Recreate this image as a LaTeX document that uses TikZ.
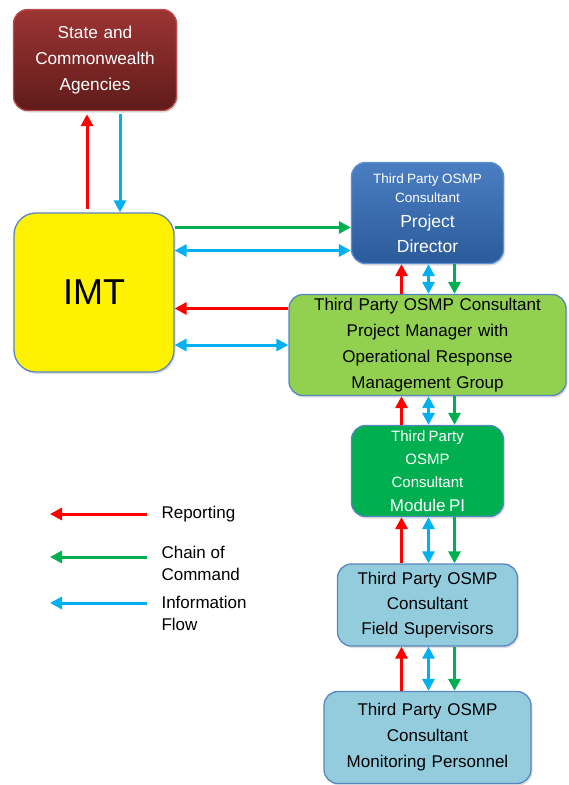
\documentclass[tikz,border=0pt]{standalone}
\usepackage{fontspec}
\setmainfont{Liberation Sans}
\usetikzlibrary{arrows.meta, positioning, shadows}

\definecolor{repred}{HTML}{FF0000}
\definecolor{cmdgreen}{HTML}{00B050}
\definecolor{infoblue}{HTML}{00B0F0}
\definecolor{boxline}{HTML}{5A86C0}
\definecolor{statetop}{HTML}{9C3534}
\definecolor{statebot}{HTML}{5F1B1A}
\definecolor{stateline}{HTML}{B94E4C}
\definecolor{pdtop}{HTML}{4A7EC2}
\definecolor{pdbot}{HTML}{2B5B9A}
\definecolor{pdline}{HTML}{5B8FD4}
\definecolor{pmfill}{HTML}{92D050}
\definecolor{pifill}{HTML}{00B050}
\definecolor{fsfill}{HTML}{93CDDD}

\newcommand{\fsz}[2]{\fontsize{#1}{#2}\selectfont}

\begin{document}
\begin{tikzpicture}[x=1pt, y=-1pt,
    box/.style={draw=boxline, line width=1.3pt, rounded corners=14pt, align=center,
      inner sep=0pt, drop shadow={opacity=0.25, shadow xshift=1.5pt, shadow yshift=-2pt}},
    rep/.style={draw=repred, line width=3pt, -{Triangle[length=12pt, width=12pt]}},
    cmd/.style={draw=cmdgreen, line width=3pt, -{Triangle[length=12pt, width=12pt]}},
    info/.style={draw=infoblue, line width=3pt, -{Triangle[length=12pt, width=12pt]}},
    infotwo/.style={draw=infoblue, line width=3pt,
      {Triangle[length=12pt, width=12pt]}-{Triangle[length=12pt, width=12pt]}}]
  \useasboundingbox (0,0) rectangle (568,785);

  % boxes
  \node[box, draw=stateline, top color=statetop, bottom color=statebot, text=white,
    minimum width=163pt, minimum height=101pt, text width=160pt, font=\fsz{17.2}{26}]
    (state) at (95,60) {State and\\Commonwealth\\Agencies};
  \node[box, fill=yellow, rounded corners=22pt, minimum width=160pt, minimum height=159pt,
    font=\fsz{36}{40}] (imt) at (94,292.5) {IMT};
  \node[box, draw=pdline, top color=pdtop, bottom color=pdbot, text=white,
    minimum width=152pt, minimum height=101pt, text width=150pt]
    (pd) at (427.5,213) {\fsz{13.5}{19}Third Party OSMP\\Consultant\par
      \fsz{17.5}{25}Project\\Director\par};
  \node[box, fill=pmfill, minimum width=277pt, minimum height=101pt, text width=270pt,
    font=\fsz{17}{26}] (pm) at (427.5,345)
    {Third Party OSMP Consultant\\Project Manager with\\Operational Response\\Management Group};
  \node[box, fill=pifill, text=white, minimum width=152pt, minimum height=91pt,
    text width=150pt] (pi) at (427.5,471)
    {\fsz{15}{23}Third Party\\OSMP\\Consultant\par\fsz{17}{24}Module PI\par};
  \node[box, fill=fsfill, minimum width=180pt, minimum height=82pt, text width=178pt,
    font=\fsz{17}{25}] (fs) at (427.5,605)
    {Third Party OSMP\\Consultant\\Field Supervisors};
  \node[box, fill=fsfill, minimum width=207pt, minimum height=92pt, text width=205pt,
    font=\fsz{17}{26}] (mp) at (427.5,737.5)
    {Third Party OSMP\\Consultant\\Monitoring Personnel};

  % IMT and agencies
  \draw[rep, shorten <=3pt, shorten >=3pt] ([xshift=-7pt]imt.north) -- ([xshift=-7pt]imt.north |- state.south);
  \draw[info, shorten <=3pt] ([xshift=26pt]imt.north |- state.south) -- ([xshift=26pt]imt.north);

  % IMT and consultant
  \draw[cmd] ([yshift=65pt]imt.east) -- ([yshift=65pt]imt.east -| pd.west);
  \draw[infotwo] ([yshift=42pt]imt.east) -- ([yshift=42pt]imt.east -| pd.west);
  \draw[rep] ([yshift=-16pt]imt.east -| pm.west) -- ([yshift=-16pt]imt.east);
  \draw[infotwo] ([yshift=-52.5pt]imt.east) -- ([yshift=-52.5pt]imt.east -| pm.west);

  % chain
  \foreach \up/\dn in {pd/pm, pm/pi, pi/fs, fs/mp} {
    \draw[rep] ([xshift=-26pt]\up.south |- \dn.north) -- ([xshift=-26pt]\up.south);
    \draw[infotwo] ([xshift=1pt]\up.south) -- ([xshift=1pt]\up.south |- \dn.north);
    \draw[cmd] ([xshift=27pt]\up.south) -- ([xshift=27pt]\up.south |- \dn.north);
  }

  % legend
  \node[anchor=west, font=\fsz{17}{22}] (lrep) at (158,514) {Reporting};
  \node[anchor=north west, align=left, font=\fsz{17}{22}] (lcmd) at (158,543) {Chain of\\Command};
  \node[anchor=north west, align=left, font=\fsz{17}{22}] (linfo) at (158,593) {Information\\Flow};
  \coordinate (reps) at (147,514);
  \coordinate (repe) at (50,514);
  \coordinate (cmds) at (147,557);
  \coordinate (cmde) at (50,557);
  \coordinate (infs) at (147,603);
  \coordinate (infe) at (50,603);
  \draw[rep] (reps) -- (repe);
  \draw[cmd] (cmds) -- (cmde);
  \draw[info] (infs) -- (infe);
\end{tikzpicture}
\end{document}
